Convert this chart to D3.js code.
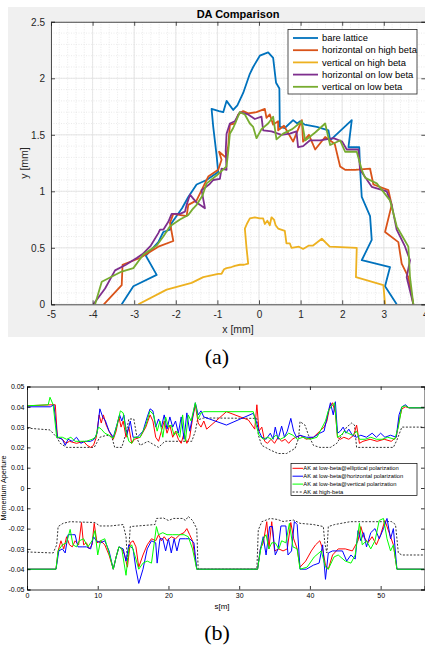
<!DOCTYPE html>
<html lang="en">
<head>
<meta charset="utf-8">
<script src="https://d3js.org/d3.v7.min.js"></script>
<style>
    body { margin: 0px; background: #fff; }
    text { font-family: "Liberation Sans", Arial, sans-serif; }
    .cap { font-family: "Liberation Serif", "Times New Roman", serif; }
</style>
</head>
<body>
<svg id="fig" width="425" height="647"></svg>
<script>
// ---------- (a) DA comparison, points are [x mm, y mm]
var daNames = ["bare lattice", "horizontal on high beta", "vertical on high beta",
               "horizontal on low beta", "vertical on low beta"];
var daColors = ["#0072BD", "#D95319", "#EDB120", "#7E2F8E", "#77AC30"];

var bareLattice = [[-3.30,0],[-3.02,0.16],[-2.46,0.26],[-2.72,0.43],[-2.42,0.55],[-2.30,0.64],[-2.14,0.66],
    [-2.10,0.72],[-1.85,0.85],[-1.70,0.95],[-1.50,1.06],[-1.26,1.10],[-0.98,1.17],[-1.02,1.32],[-1.10,1.57],
    [-1.14,1.73],[-0.96,1.71],[-0.86,1.70],[-0.78,1.80],[-0.62,1.72],[-0.52,1.76],[-0.38,1.87],[-0.22,2.04],
    [-0.14,2.10],[0.02,2.20],[0.22,2.23],[0.34,2.18],[0.41,1.96],[0.49,1.91],[0.50,1.57],[0.62,1.56],
    [0.82,1.63],[0.92,1.60],[0.99,1.62],[1.10,1.59],[1.39,1.57],[1.67,1.54],[1.71,1.45],[2.23,1.63],
    [2.15,1.39],[2.41,1.39],[2.43,1.20],[2.47,0.95],[2.67,0.78],[2.71,0.57],[2.47,0.39],[3.15,0.33],
    [3.03,0.16],[3.31,0]];
var horizHigh = [[-3.73,0],[-3.30,0.17],[-3.28,0.35],[-2.86,0.41],[-2.42,0.51],[-2.06,0.56],[-2.14,0.72],
    [-2.06,0.80],[-1.74,0.78],[-1.70,0.88],[-1.50,0.92],[-1.30,1.07],[-1.22,1.13],[-0.98,1.19],[-0.90,1.28],
    [-0.96,1.35],[-0.80,1.30],[-0.74,1.40],[-0.70,1.59],[-0.58,1.60],[-0.50,1.68],[-0.38,1.71],[-0.26,1.69],
    [-0.06,1.70],[0.14,1.73],[0.18,1.65],[0.26,1.68],[0.34,1.59],[0.46,1.62],[0.46,1.54],[0.60,1.58],
    [0.82,1.44],[1.03,1.63],[1.06,1.44],[1.20,1.50],[1.35,1.37],[1.59,1.48],[1.82,1.42],[1.95,1.22],
    [2.07,1.19],[2.31,1.19],[2.67,1.20],[2.75,1.06],[3.11,1.01],[3.19,0.88],[3.03,0.64],[3.35,0.55],
    [3.43,0.36],[3.59,0.24],[3.71,0]];
var vertHigh = [[-2.90,0],[-2.22,0.13],[-1.62,0.19],[-1.34,0.24],[-0.98,0.27],[-0.90,0.27],[-0.84,0.31],
    [-0.78,0.32],[-0.66,0.33],[-0.58,0.34],[-0.46,0.35],[-0.36,0.35],[-0.26,0.36],[-0.30,0.50],[-0.34,0.67],
    [-0.28,0.72],[-0.22,0.76],[-0.10,0.77],[0.02,0.76],[0.10,0.76],[0.14,0.71],[0.20,0.74],[0.26,0.70],
    [0.30,0.77],[0.36,0.75],[0.40,0.70],[0.46,0.67],[0.62,0.65],[0.66,0.54],[0.74,0.54],[0.78,0.50],
    [0.96,0.51],[1.06,0.49],[1.20,0.52],[1.30,0.52],[1.51,0.58],[1.70,0.51],[2.35,0.50],[2.33,0.24],
    [2.99,0.17],[3.03,0]];
var horizLow = [[-3.98,0],[-3.70,0.14],[-3.46,0.30],[-3.20,0.35],[-2.94,0.41],[-2.78,0.45],[-2.60,0.52],
    [-2.42,0.63],[-2.38,0.66],[-2.30,0.66],[-2.18,0.73],[-2.10,0.80],[-1.90,0.80],[-1.78,0.82],[-1.74,0.88],
    [-1.66,0.97],[-1.50,0.90],[-1.30,0.85],[-1.38,1.01],[-1.20,1.06],[-1.10,1.10],[-0.94,1.11],[-0.90,1.20],
    [-0.78,1.19],[-0.80,1.36],[-0.78,1.51],[-0.70,1.60],[-0.58,1.62],[-0.46,1.70],[-0.26,1.68],[-0.10,1.64],
    [0.06,1.66],[0.10,1.54],[0.30,1.53],[0.54,1.50],[0.74,1.51],[0.90,1.53],[0.94,1.39],[1.06,1.40],
    [1.22,1.45],[1.47,1.45],[1.79,1.47],[2.00,1.44],[2.11,1.37],[2.39,1.37],[2.43,1.19],[2.71,1.04],
    [3.07,1.00],[3.19,0.88],[3.31,0.66],[3.50,0.52],[3.63,0.39],[3.55,0.24],[3.71,0]];
var vertLow = [[-3.94,0],[-3.78,0.20],[-3.30,0.29],[-3.02,0.32],[-2.78,0.44],[-2.46,0.52],[-2.30,0.60],
    [-2.14,0.69],[-1.90,0.75],[-1.70,0.79],[-1.60,0.84],[-1.50,0.88],[-1.36,0.96],[-1.26,1.07],[-1.02,1.14],
    [-0.90,1.18],[-0.78,1.22],[-0.74,1.35],[-0.70,1.51],[-0.62,1.56],[-0.46,1.70],[-0.34,1.68],[-0.22,1.60],
    [-0.14,1.57],[-0.06,1.47],[0.06,1.55],[0.22,1.60],[0.34,1.66],[0.42,1.46],[0.58,1.51],[0.80,1.55],
    [1.03,1.62],[1.11,1.45],[1.35,1.52],[1.59,1.60],[1.71,1.41],[1.95,1.45],[2.07,1.35],[2.35,1.35],
    [2.47,1.19],[2.55,1.12],[2.83,1.07],[3.15,0.92],[3.31,0.69],[3.45,0.60],[3.59,0.51],[3.63,0.24],[3.71,0]];

var daXTicks = [-5, -4, -3, -2, -1, 0, 1, 2, 3, 4];
var daXLabels = ["-5", "-4", "-3", "-2", "-1", "0", "1", "2", "3", "4"];
var daYTicks = [0, 0.5, 1, 1.5, 2, 2.5];
var daYLabels = ["0", "0.5", "1", "1.5", "2", "2.5"];

// ---------- (b) momentum aperture, points are [s m, aperture]
var maNames = ["AK at low-beta@elliptical polarization", "AK at low-beta@horizontal polarization",
               "AK at low-beta@vertical polarization", "AK at high-beta"];
var maColors = ["#ff0000", "#0000ff", "#00ff00", "#000000"];

var redUp = [[0,0.0405],[3.5,0.041],[4.0,0.041],[4.3,0.025],[5,0.024],[5.5,0.022],[6,0.023],[7,0.022],[8,0.023],
    [8.5,0.021],[9,0.020],[9.4,0.021],[9.8,0.025],[10.2,0.036],[10.5,0.032],[10.8,0.036],[11.2,0.031],[11.6,0.028],
    [12.2,0.024],[12.6,0.028],[13.0,0.035],[13.3,0.030],[13.6,0.033],[14,0.025],[14.4,0.030],[14.8,0.022],
    [15.2,0.024],[16,0.025],[16.8,0.030],[17.4,0.036],[17.8,0.033],[18.2,0.025],[18.6,0.023],[19,0.028],
    [19.4,0.033],[19.8,0.027],[20.2,0.031],[20.6,0.025],[21,0.028],[21.4,0.024],[21.8,0.022],[22.2,0.027],
    [22.6,0.022],[23,0.025],[23.4,0.034],[23.8,0.041],[24.2,0.032],[24.6,0.030],[25,0.033],[25.4,0.029],
    [28.2,0.0376],[31.3,0.0335],[32.2,0.029],[32.5,0.041],[32.8,0.028],[33.2,0.030],[33.6,0.023],[34,0.022],
    [34.5,0.024],[35,0.022],[35.5,0.025],[36,0.023],[36.5,0.024],[37,0.022],[37.5,0.024],[38,0.025],[38.6,0.026],
    [39.5,0.024],[40.5,0.025],[41.4,0.028],[42,0.030],[42.4,0.033],[42.8,0.040],[43.2,0.042],[43.6,0.037],
    [43.9,0.025],[44.3,0.024],[44.8,0.025],[45.5,0.024],[46.2,0.026],[46.6,0.031],[47,0.022],[47.5,0.023],
    [48.5,0.024],[49.5,0.023],[50.5,0.024],[51.5,0.023],[52.2,0.025],[52.6,0.033],[53,0.039],[53.5,0.040],
    [54,0.0395],[56.2,0.0395]];
var blueUp = [[0,0.040],[3.3,0.040],[3.8,0.041],[4.3,0.025],[5,0.024],[5.4,0.021],[5.8,0.024],[6.4,0.023],
    [7,0.025],[7.6,0.022],[8.2,0.023],[9,0.023],[9.5,0.024],[9.9,0.027],[10.3,0.039],[10.7,0.035],[11.1,0.033],
    [11.6,0.028],[12.2,0.025],[12.7,0.031],[13.1,0.036],[13.4,0.033],[13.7,0.036],[14.1,0.026],[14.6,0.033],
    [15,0.025],[15.6,0.025],[16.4,0.028],[17,0.035],[17.4,0.039],[17.8,0.038],[18.2,0.030],[18.6,0.034],
    [19,0.030],[19.4,0.036],[19.8,0.029],[20.2,0.035],[20.6,0.030],[21,0.033],[21.4,0.027],[21.8,0.035],
    [22.2,0.024],[22.6,0.037],[23,0.028],[23.4,0.035],[23.8,0.042],[24.2,0.036],[24.6,0.038],[25,0.035],
    [28.2,0.031],[32,0.0368],[32.4,0.033],[32.8,0.028],[33.2,0.025],[33.8,0.024],[34.4,0.027],[34.8,0.024],
    [35.1,0.030],[35.5,0.024],[36,0.0305],[36.4,0.025],[36.8,0.028],[37.3,0.0343],[37.7,0.028],[38.1,0.025],
    [38.6,0.026],[39.5,0.025],[40.5,0.025],[41.4,0.027],[42,0.028],[42.5,0.036],[42.9,0.042],[43.3,0.036],
    [43.6,0.0425],[43.9,0.027],[44.3,0.028],[44.7,0.030],[45.1,0.027],[45.5,0.029],[46,0.026],[46.6,0.025],
    [47.2,0.026],[48,0.025],[48.8,0.027],[49.4,0.025],[50,0.027],[50.6,0.025],[51.4,0.026],[52.2,0.025],
    [52.6,0.036],[53,0.040],[53.5,0.041],[54,0.0395],[56.2,0.0395]];
var greenUp = [[0,0.0405],[3.0,0.041],[3.25,0.0447],[3.7,0.041],[4.2,0.025],[5,0.025],[5.6,0.024],[6.2,0.025],
    [6.8,0.023],[7.6,0.023],[8.4,0.023],[9.2,0.024],[9.7,0.025],[10.1,0.030],[10.5,0.029],[11,0.027],[11.6,0.026],
    [12.2,0.0245],[12.8,0.032],[13.2,0.038],[13.6,0.037],[14,0.028],[14.4,0.023],[14.8,0.022],[15.2,0.025],
    [16,0.025],[16.8,0.031],[17.4,0.038],[17.9,0.036],[18.4,0.028],[18.8,0.033],[19.2,0.025],[19.6,0.035],
    [20,0.030],[20.4,0.031],[20.8,0.026],[21.2,0.028],[21.6,0.025],[22,0.036],[22.4,0.023],[22.8,0.036],
    [23.2,0.033],[23.8,0.042],[24.2,0.034],[24.6,0.037],[25,0.0376],[32,0.0376],[32.4,0.031],[32.8,0.026],
    [33.4,0.024],[34,0.025],[34.6,0.024],[35.2,0.026],[35.8,0.024],[36.4,0.025],[37,0.027],[37.6,0.026],
    [38.2,0.024],[39,0.025],[40,0.024],[41,0.025],[41.6,0.029],[42.2,0.033],[42.6,0.038],[43,0.040],[43.5,0.042],
    [43.9,0.025],[44.4,0.026],[44.9,0.028],[45.4,0.027],[46,0.026],[46.6,0.028],[47,0.024],[47.8,0.024],
    [48.6,0.025],[49.4,0.024],[50.2,0.024],[51,0.025],[52,0.024],[52.5,0.030],[53,0.040],[53.5,0.0405],
    [54,0.0395],[56.2,0.0395]];
var highUp = [[0,0.0295],[3.25,0.0286],[4.2,0.025],[4.7,0.022],[5.6,0.020],[9.5,0.020],[10.3,0.025],[11.3,0.026],
    [12,0.025],[12.4,0.020],[13.4,0.020],[14,0.027],[14.4,0.034],[15.1,0.034],[15.6,0.024],[16,0.021],[17.1,0.023],
    [18.6,0.020],[19.5,0.023],[21.9,0.023],[23.3,0.023],[23.8,0.028],[24.1,0.0335],[25,0.0345],[32.5,0.0343],
    [32.7,0.026],[33.2,0.021],[34.4,0.0187],[35.5,0.017],[36.7,0.017],[37.9,0.0195],[38.4,0.0245],[38.6,0.0327],
    [39.3,0.031],[39.8,0.026],[40.5,0.021],[41.4,0.020],[42.9,0.020],[43.8,0.022],[44.5,0.026],[45.2,0.030],
    [45.9,0.032],[46.3,0.031],[46.6,0.020],[51.8,0.020],[52.3,0.0236],[53,0.030],[56.2,0.030]];

var redLo = [[0,-0.040],[4.1,-0.040],[4.4,-0.031],[4.8,-0.026],[5.2,-0.030],[5.6,-0.024],[6,-0.028],[6.4,-0.029],
    [6.8,-0.026],[7.3,-0.028],[7.7,-0.017],[8,-0.028],[8.4,-0.027],[8.8,-0.030],[9.2,-0.028],[9.5,-0.0174],
    [9.9,-0.027],[10.4,-0.026],[11,-0.028],[11.6,-0.033],[12.2,-0.040],[12.6,-0.034],[13,-0.029],[13.4,-0.030],
    [13.8,-0.033],[14.2,-0.039],[14.6,-0.027],[15,-0.026],[15.4,-0.029],[15.8,-0.039],[16.4,-0.033],[17,-0.028],
    [17.6,-0.025],[18.2,-0.026],[18.6,-0.023],[19,-0.026],[19.4,-0.024],[19.8,-0.026],[20.4,-0.024],[21,-0.025],
    [21.6,-0.023],[22.2,-0.022],[22.6,-0.020],[23,-0.023],[23.4,-0.026],[24,-0.040],[32.6,-0.040],[33,-0.030],
    [33.4,-0.027],[33.9,-0.0166],[34.2,-0.030],[34.6,-0.0166],[35,-0.031],[35.6,-0.030],[36.2,-0.031],
    [36.8,-0.030],[37.3,-0.017],[37.7,-0.025],[38.2,-0.030],[38.6,-0.039],[39.4,-0.036],[40.2,-0.031],
    [40.8,-0.028],[41.4,-0.026],[41.8,-0.030],[42.2,-0.038],[42.6,-0.040],[43.2,-0.033],[44,-0.030],[45,-0.030],
    [46,-0.031],[46.8,-0.026],[47.2,-0.019],[47.6,-0.024],[48.2,-0.027],[48.8,-0.024],[49.4,-0.028],[50,-0.023],
    [50.6,-0.016],[51.2,-0.022],[51.8,-0.028],[52.3,-0.040],[56.2,-0.040]];
var blueLo = [[0,-0.040],[4.1,-0.040],[4.5,-0.031],[5,-0.030],[5.4,-0.032],[5.8,-0.023],[6.4,-0.023],[6.8,-0.023],
    [7.2,-0.029],[7.8,-0.029],[8.4,-0.029],[9,-0.030],[9.4,-0.024],[9.8,-0.026],[10.4,-0.027],[11,-0.026],
    [11.6,-0.031],[12.2,-0.040],[12.6,-0.034],[13,-0.029],[13.6,-0.030],[14,-0.036],[14.4,-0.028],[15,-0.030],
    [15.4,-0.040],[15.8,-0.047],[16.4,-0.040],[17,-0.030],[17.6,-0.026],[18.2,-0.027],[18.4,-0.037],[18.8,-0.025],
    [19.2,-0.025],[19.6,-0.031],[20,-0.025],[20.4,-0.032],[20.8,-0.025],[21.2,-0.031],[21.6,-0.025],[22.4,-0.025],
    [23,-0.025],[23.6,-0.027],[24,-0.040],[32.6,-0.040],[33,-0.030],[33.4,-0.024],[33.8,-0.033],[34.3,-0.019],
    [34.7,-0.019],[35.1,-0.033],[35.5,-0.030],[35.9,-0.0187],[36.6,-0.0187],[36.9,-0.033],[37.4,-0.031],
    [37.8,-0.0165],[38.2,-0.018],[38.6,-0.040],[39.5,-0.040],[40.5,-0.038],[41.3,-0.037],[41.8,-0.028],
    [42.2,-0.045],[42.6,-0.032],[43.2,-0.031],[44.6,-0.031],[45.2,-0.036],[45.8,-0.033],[46.4,-0.035],
    [46.8,-0.021],[47.2,-0.026],[47.6,-0.022],[48,-0.029],[48.6,-0.022],[49.2,-0.020],[49.8,-0.025],[50.4,-0.020],
    [50.9,-0.015],[51.4,-0.025],[51.8,-0.020],[52.3,-0.040],[56.2,-0.040]];
var greenLo = [[0,-0.040],[4.1,-0.040],[4.4,-0.031],[5,-0.028],[5.6,-0.027],[6.1,-0.0204],[6.5,-0.028],[7,-0.029],
    [7.4,-0.026],[8,-0.025],[8.6,-0.029],[9.2,-0.026],[9.6,-0.021],[10,-0.033],[10.4,-0.026],[11,-0.025],
    [11.6,-0.032],[12.2,-0.040],[12.6,-0.034],[13,-0.029],[13.4,-0.030],[14,-0.043],[14.4,-0.030],[14.8,-0.028],
    [15.4,-0.035],[15.8,-0.040],[16.4,-0.037],[17,-0.036],[17.6,-0.037],[18.3,-0.019],[18.6,-0.023],[19.2,-0.022],
    [19.8,-0.023],[20.6,-0.023],[21.4,-0.023],[22.2,-0.023],[22.8,-0.024],[23.4,-0.030],[24,-0.040],[32.6,-0.040],
    [33,-0.031],[33.4,-0.025],[33.8,-0.023],[34.2,-0.030],[34.6,-0.027],[35.1,-0.027],[35.6,-0.030],[36,-0.026],
    [36.6,-0.027],[37.1,-0.0174],[37.6,-0.029],[38.2,-0.030],[38.6,-0.040],[39.6,-0.039],[40.6,-0.034],
    [41.6,-0.031],[42.2,-0.039],[42.6,-0.040],[43.4,-0.034],[44,-0.033],[45,-0.036],[45.8,-0.037],[46.4,-0.033],
    [47,-0.0174],[47.4,-0.028],[48,-0.026],[48.6,-0.030],[49.2,-0.026],[49.8,-0.016],[50.4,-0.015],[50.9,-0.025],
    [51.4,-0.031],[51.8,-0.028],[52.3,-0.040],[56.2,-0.040]];
var highLo = [[0,-0.0315],[3.7,-0.032],[4.2,-0.028],[4.4,-0.019],[5.1,-0.0174],[6.1,-0.0166],[9.6,-0.017],
    [10.3,-0.0187],[11.8,-0.0187],[13.6,-0.018],[14,-0.024],[14.2,-0.036],[14.4,-0.030],[14.6,-0.019],[18.1,-0.018],
    [18.3,-0.015],[19.3,-0.0148],[20,-0.016],[20.7,-0.015],[22,-0.015],[22.4,-0.016],[22.8,-0.014],[23.4,-0.016],
    [24,-0.020],[24.2,-0.040],[32.5,-0.040],[32.7,-0.0207],[33.2,-0.0166],[34.4,-0.015],[35.4,-0.0155],
    [36.2,-0.0165],[37.7,-0.0158],[38.6,-0.0174],[40.5,-0.018],[41.9,-0.019],[42.1,-0.027],[42.4,-0.032],
    [42.6,-0.019],[43.5,-0.018],[45.7,-0.0166],[50.4,-0.0166],[51.5,-0.0165],[52.1,-0.018],[52.5,-0.032],
    [53,-0.033],[56.2,-0.033]];

var maXTicks = [0, 10, 20, 30, 40, 50];
var maYTicks = [0.05, 0.04, 0.03, 0.02, 0.01, 0, -0.01, -0.02, -0.03, -0.04, -0.05];
var maYLabels = ["0.05", "0.04", "0.03", "0.02", "0.01", "0", "-0.01", "-0.02", "-0.03", "-0.04", "-0.05"];

var svg = d3.select("#fig");

// ================= panel (a)
var axA = { l: 51, r: 425.4, t: 21.8, b: 304.3 };
var xA = d3.scaleLinear().domain([-5, 4]).range([axA.l, axA.r]);
var yA = d3.scaleLinear().domain([0, 2.5]).range([axA.b, axA.t]);

svg.append("rect").attr("x", 8).attr("y", 7).attr("width", 417).attr("height", 330).attr("fill", "#f0f0f0");
svg.append("rect").attr("x", axA.l).attr("y", axA.t).attr("width", axA.r - axA.l).attr("height", axA.b - axA.t)
    .attr("fill", "#fff");

var gA = svg.append("g");
// minor grid
gA.selectAll(".mx").data(d3.range(-50, 41, 2).map(function(v) { return v / 10; }))
    .enter().append("line")
    .attr("x1", function(d) { return xA(d); }).attr("x2", function(d) { return xA(d); })
    .attr("y1", axA.t).attr("y2", axA.b)
    .attr("stroke", "#dcdcdc").attr("stroke-width", 0.6).attr("stroke-dasharray", "1,1.5");
gA.selectAll(".my").data(d3.range(0, 26, 1).map(function(v) { return v / 10; }))
    .enter().append("line")
    .attr("y1", function(d) { return yA(d); }).attr("y2", function(d) { return yA(d); })
    .attr("x1", axA.l).attr("x2", axA.r)
    .attr("stroke", "#dcdcdc").attr("stroke-width", 0.6).attr("stroke-dasharray", "1,1.5");
// major grid
gA.selectAll(".gx").data(daXTicks).enter().append("line")
    .attr("x1", function(d) { return xA(d); }).attr("x2", function(d) { return xA(d); })
    .attr("y1", axA.t).attr("y2", axA.b).attr("stroke", "#e1e1e1").attr("stroke-width", 0.8);
gA.selectAll(".gy").data(daYTicks).enter().append("line")
    .attr("y1", function(d) { return yA(d); }).attr("y2", function(d) { return yA(d); })
    .attr("x1", axA.l).attr("x2", axA.r).attr("stroke", "#e1e1e1").attr("stroke-width", 0.8);

svg.append("clipPath").attr("id", "clipA").append("rect")
    .attr("x", axA.l).attr("y", axA.t).attr("width", axA.r - axA.l).attr("height", axA.b - axA.t);

var lineA = d3.line().x(function(d) { return xA(d[0]); }).y(function(d) { return yA(d[1]); });
var daSeries = [bareLattice, horizHigh, vertHigh, horizLow, vertLow];
gA.append("g").attr("clip-path", "url(#clipA)")
    .selectAll("path").data(daSeries).enter().append("path")
    .attr("d", lineA)
    .attr("fill", "none")
    .attr("stroke", function(d, i) { return daColors[i]; })
    .attr("stroke-width", 1.8)
    .attr("stroke-linejoin", "round");

// axes of (a), ticks pointing inward
var axisColor = "#262626";
var xAxisA = gA.append("g").attr("transform", "translate(0," + axA.b + ")")
    .call(d3.axisBottom(xA).tickValues(daXTicks).tickSize(-4).tickPadding(7)
        .tickFormat(function(d, i) { return daXLabels[i]; }));
var yAxisA = gA.append("g").attr("transform", "translate(" + axA.l + ",0)")
    .call(d3.axisLeft(yA).tickValues(daYTicks).tickSize(-4).tickPadding(6)
        .tickFormat(function(d, i) { return daYLabels[i]; }));
gA.append("g").attr("transform", "translate(0," + axA.t + ")")
    .call(d3.axisTop(xA).tickValues(daXTicks).tickSize(-4).tickFormat(""));
gA.append("g").attr("transform", "translate(" + axA.r + ",0)")
    .call(d3.axisRight(yA).tickValues(daYTicks).tickSize(-4).tickFormat(""));
gA.selectAll(".domain, .tick line").attr("stroke", axisColor).attr("stroke-width", 0.8);
gA.selectAll(".tick text").attr("fill", axisColor).style("font-size", "10px");

svg.append("text").attr("x", 238).attr("y", 18).attr("text-anchor", "middle")
    .style("font-size", "11px").style("font-weight", "bold").attr("fill", "#000").text("DA Comparison");
svg.append("text").attr("x", 238).attr("y", 333).attr("text-anchor", "middle")
    .style("font-size", "10.5px").attr("fill", axisColor).text("x [mm]");
svg.append("text").attr("transform", "translate(28,163) rotate(-90)").attr("text-anchor", "middle")
    .style("font-size", "10.5px").attr("fill", axisColor).text("y [mm]");

// legend (a)
var legA = svg.append("g");
legA.append("rect").attr("x", 288).attr("y", 29.5).attr("width", 129).attr("height", 64.5)
    .attr("fill", "#fff").attr("stroke", axisColor).attr("stroke-width", 0.8);
var legARows = legA.selectAll(".row").data(daNames).enter().append("g")
    .attr("transform", function(d, i) { return "translate(0," + (38 + i * 12.2) + ")"; });
legARows.append("line").attr("x1", 293).attr("x2", 318).attr("y1", 0).attr("y2", 0)
    .attr("stroke", function(d, i) { return daColors[i]; }).attr("stroke-width", 1.8);
legARows.append("text").attr("x", 322).attr("y", 0).attr("dy", "0.35em")
    .style("font-size", "9.4px").attr("fill", "#000").text(function(d) { return d; });

svg.append("text").attr("class", "cap").attr("x", 217).attr("y", 364).attr("text-anchor", "middle")
    .style("font-size", "22px").attr("fill", "#000").text("(a)");

// ================= panel (b)
var axB = { l: 27, r: 424.5, t: 386.5, b: 589.5 };
var xB = d3.scaleLinear().domain([0, 56.2]).range([axB.l, axB.r]);
var yB = d3.scaleLinear().domain([-0.05, 0.05]).range([axB.b, axB.t]);
var gB = svg.append("g");

svg.append("clipPath").attr("id", "clipB").append("rect")
    .attr("x", axB.l).attr("y", axB.t).attr("width", axB.r - axB.l).attr("height", axB.b - axB.t);

var lineB = d3.line().x(function(d) { return xB(d[0]); }).y(function(d) { return yB(d[1]); });
var maSeries = [
    { data: highUp, c: 3 }, { data: highLo, c: 3 },
    { data: redUp, c: 0 }, { data: redLo, c: 0 },
    { data: blueUp, c: 1 }, { data: blueLo, c: 1 },
    { data: greenUp, c: 2 }, { data: greenLo, c: 2 }
];
gB.append("g").attr("clip-path", "url(#clipB)")
    .selectAll("path").data(maSeries).enter().append("path")
    .attr("d", function(d) { return lineB(d.data); })
    .attr("fill", "none")
    .attr("stroke", function(d) { return maColors[d.c]; })
    .attr("stroke-width", function(d) { return d.c == 3 ? 0.8 : 1; })
    .attr("stroke-dasharray", function(d) { return d.c == 3 ? "2,1.6" : null; });

gB.append("g").attr("transform", "translate(0," + axB.b + ")")
    .call(d3.axisBottom(xB).tickValues(maXTicks).tickSize(-3.5).tickPadding(4)
        .tickFormat(function(d) { return String(d); }));
gB.append("g").attr("transform", "translate(" + axB.l + ",0)")
    .call(d3.axisLeft(yB).tickValues(maYTicks).tickSize(-3.5).tickPadding(2.5)
        .tickFormat(function(d, i) { return maYLabels[i]; }));
gB.append("g").attr("transform", "translate(0," + axB.t + ")")
    .call(d3.axisTop(xB).tickValues(maXTicks).tickSize(-3.5).tickFormat(""));
gB.append("g").attr("transform", "translate(" + axB.r + ",0)")
    .call(d3.axisRight(yB).tickValues(maYTicks).tickSize(-3.5).tickFormat(""));
gB.selectAll(".domain, .tick line").attr("stroke", "#000").attr("stroke-width", 0.8);
gB.selectAll(".tick text").attr("fill", "#000").style("font-size", "7px");

svg.append("text").attr("x", 222).attr("y", 609).attr("text-anchor", "middle")
    .style("font-size", "8px").attr("fill", "#000").text("s[m]");
svg.append("text").attr("transform", "translate(6,488) rotate(-90)").attr("text-anchor", "middle")
    .style("font-size", "7.2px").attr("fill", "#000").text("Momentum Aperture");

// legend (b)
var legB = svg.append("g");
legB.append("rect").attr("x", 291).attr("y", 463.5).attr("width", 126).attr("height", 32)
    .attr("fill", "#fff").attr("stroke", "#000").attr("stroke-width", 0.7);
var legBRows = legB.selectAll(".row").data(maNames).enter().append("g")
    .attr("transform", function(d, i) { return "translate(0," + (468.3 + i * 7.9) + ")"; });
legBRows.append("line").attr("x1", 292.5).attr("x2", 303).attr("y1", 0).attr("y2", 0)
    .attr("stroke", function(d, i) { return maColors[i]; })
    .attr("stroke-width", function(d, i) { return i == 3 ? 0.8 : 1; })
    .attr("stroke-dasharray", function(d, i) { return i == 3 ? "2,1.6" : null; });
legBRows.append("text").attr("x", 303.3).attr("y", 0).attr("dy", "0.35em")
    .style("font-size", "5.8px").attr("fill", "#000").text(function(d) { return d; });

svg.append("text").attr("class", "cap").attr("x", 217).attr("y", 640).attr("text-anchor", "middle")
    .style("font-size", "22px").attr("fill", "#000").text("(b)");
</script>
</body>
</html>
